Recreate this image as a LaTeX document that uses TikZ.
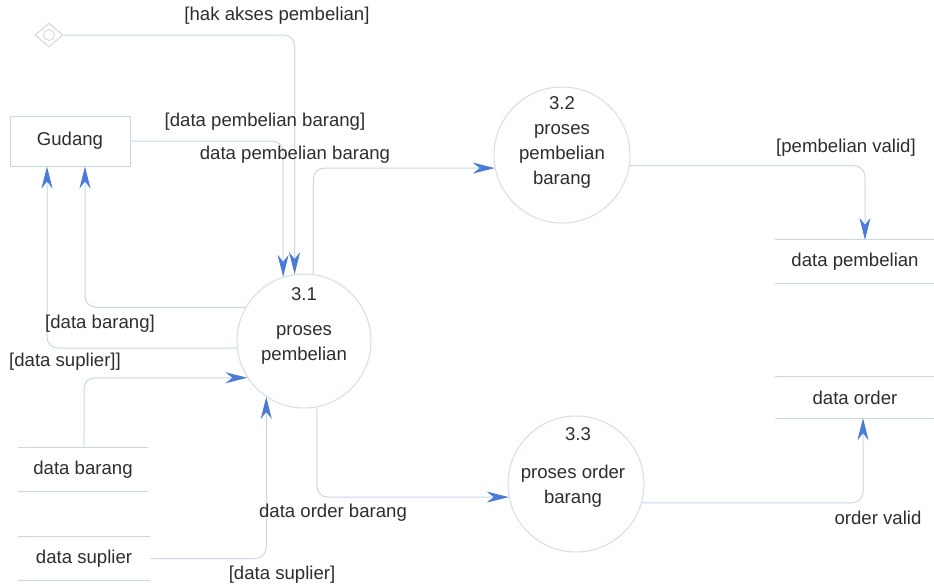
\documentclass[tikz,border=0pt]{standalone}
\usepackage{fontspec}
\setmainfont{Liberation Sans}
\usetikzlibrary{arrows.meta,shapes.geometric}
\definecolor{linec}{HTML}{C9D7EA}
\definecolor{circc}{HTML}{D3DEEC}
\definecolor{arrc}{HTML}{4A7BD8}
\definecolor{txtc}{HTML}{2E2E2E}
\definecolor{diac}{HTML}{D6DCE3}
\tikzset{
  flow/.style={draw=linec, line width=1pt, rounded corners=11pt,
    -{Stealth[length=22pt,width=11pt,inset=7pt,color=arrc]}},
  proc/.style={circle, draw=circc, line width=1pt, inner sep=0pt},
  ent/.style={rectangle, draw=linec, line width=1pt, minimum width=120pt, minimum height=50pt},
  store/.style={rectangle, inner sep=0pt},
  lbl/.style={text=txtc, inner sep=0pt, font=\fontsize{18.6}{25}\selectfont},
  every node/.append style={text=txtc}
}
\begin{document}
\begin{tikzpicture}[x=1pt,y=-1pt]
\useasboundingbox[fill=white] (0,0) rectangle (934,587);

% diamond start
\node[diamond, draw=diac, line width=1.2pt, minimum width=28pt, minimum height=24pt, inner sep=0pt] (dia) at (49,35) {};
\node[circle, draw=diac, line width=1pt, minimum size=11pt, inner sep=0pt] (diacirc) at (dia.center) {};

% entity
\node[ent, lbl] (gud) at (70,141) {Gudang};

% processes
\node[proc, minimum size=134pt] (p31) at (304,341) {};
\node[lbl] (n31) at (304,294) {3.1};
\node[lbl, align=center] (t31) at (304,345) {proses\\pembelian};

\node[proc, minimum size=136pt] (p32) at (562,155) {};
\node[lbl] (n32) at (562,103) {3.2};
\node[lbl, align=center] (t32) at (562,156) {proses\\pembelian\\barang};

\node[proc, minimum size=136pt] (p33) at (576,484) {};
\node[lbl] (n33) at (578,434) {3.3};
\node[lbl, align=center] (t33) at (573,486) {proses order\\barang};

% stores
\node[store, lbl, minimum width=159pt, minimum height=43pt] (dpb) at (855,261.5) {data pembelian};
\node[store, lbl, minimum width=159pt, minimum height=41pt] (dor) at (855,397.5) {data order};
\node[store, lbl, minimum width=130pt, minimum height=43pt] (dba) at (83,469.5) {data barang};
\node[store, lbl, minimum width=132pt, minimum height=43pt] (dsu) at (84,558.5) {data suplier};
\foreach \s in {dpb,dor,dba,dsu}{
  \draw[linec, line width=1pt] (\s.north west) -- (\s.north east);
  \draw[linec, line width=1pt] (\s.south west) -- (\s.south east);
}

% flows
\draw[flow] (dia.east) -| (p31.98);
\draw[flow] (gud.east) -| (p31.108);
\draw[flow] (p31.82) |- (p32.191);
\draw[flow] (p32.-9) -| ([xshift=10pt]dpb.north);
\draw[flow] (p31.-79) |- (p33.191);
\draw[flow] (p33.-16) -| ([xshift=8pt]dor.south);
\draw[flow] (dsu.east) -| (p31.236);
\draw[flow] ([xshift=1pt]dba.north) |- (p31.213);
\draw[flow] (p31.150) -| ([xshift=15pt]gud.south);
\draw[flow] (p31.186) -| ([xshift=-23pt]gud.south);

% labels
\node[lbl] (l1) at (277,16) {[hak akses pembelian]};
\node[lbl] (l2) at (265,122) {[data pembelian barang]};
\node[lbl] (l3) at (295,155) {data pembelian barang};
\node[lbl] (l4) at (846,148) {[pembelian valid]};
\node[lbl] (l5) at (100,324) {[data barang]};
\node[lbl] (l6) at (65,362) {[data suplier]]};
\node[lbl] (l7) at (333,513) {data order barang};
\node[lbl] (l8) at (282,575) {[data suplier]};
\node[lbl] (l9) at (878,518) {order valid};
\end{tikzpicture}
\end{document}
